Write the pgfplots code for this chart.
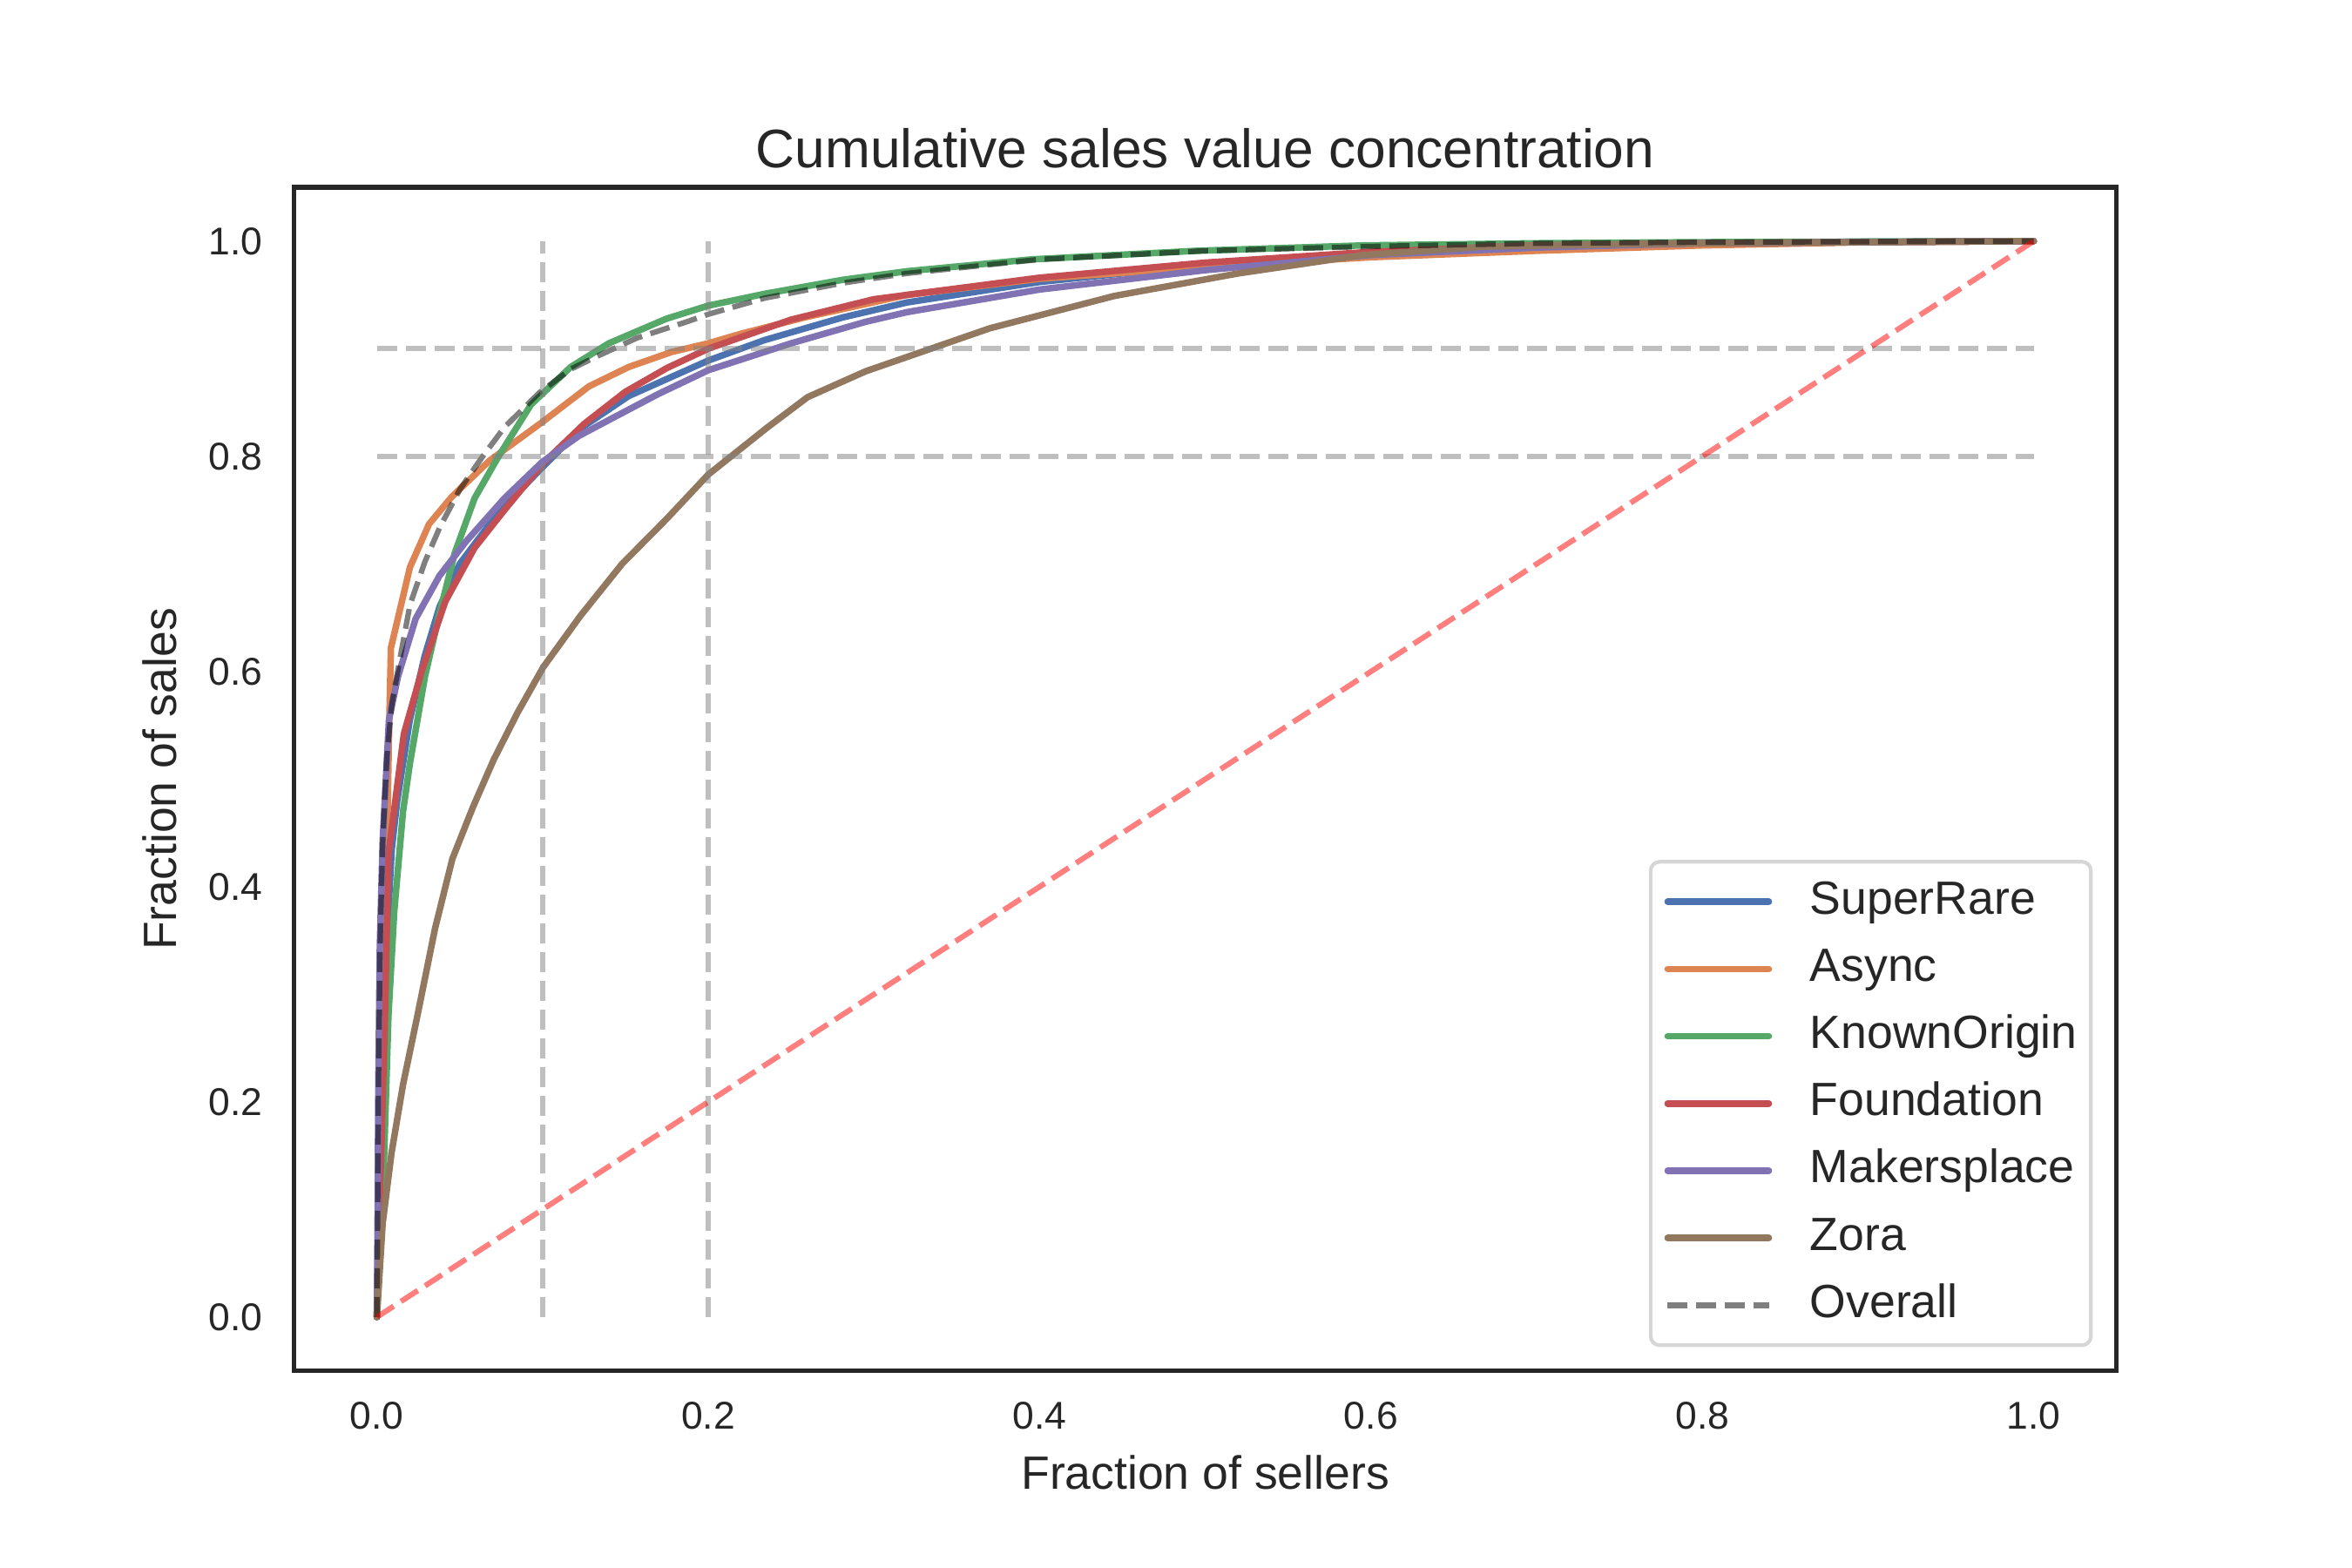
\documentclass[border=0pt]{standalone}
\usepackage{fontspec}
\setmainfont{Liberation Sans}
\usepackage{pgfplots}
\pgfplotsset{compat=1.18}
\definecolor{c1}{HTML}{4C72B0}
\definecolor{c2}{HTML}{DD8452}
\definecolor{c3}{HTML}{55A868}
\definecolor{c4}{HTML}{C44E52}
\definecolor{c5}{HTML}{8172B3}
\definecolor{c6}{HTML}{937860}
\definecolor{textc}{HTML}{262626}
\definecolor{legedge}{HTML}{D6D6D6}
\pgfplotsset{
  solidcurve/.style={line width=1.8pt, line cap=round, line join=round},
  dashcurve/.style={line width=1.5pt, dash pattern=on 5.55pt off 2.4pt},
}
\begin{document}
\begin{tikzpicture}
\path[use as bounding box] (-81.3pt,-54.5pt) rectangle (569.1pt,379.1pt);
\begin{axis}[
  at={(0,0)}, anchor=south west,
  scale only axis, width=504.0pt, height=327.3pt,
  xmin=-0.05, xmax=1.05, ymin=-0.05, ymax=1.05,
  xtick={0,0.2,0.4,0.6,0.8,1.0}, ytick={0,0.2,0.4,0.6,0.8,1.0},
  tick style={draw=none},
  axis line style={draw=textc, line width=1.25pt},
  /pgf/number format/assume math mode=true,
  xticklabel={\pgfmathprintnumber[fixed,fixed zerofill,precision=1]{\tick}},
  yticklabel={\pgfmathprintnumber[fixed,fixed zerofill,precision=1]{\tick}},
  xticklabel style={font=\fontsize{10.7}{13}\selectfont, text=textc, inner sep=0pt, anchor=north, yshift=-8.5pt},
  yticklabel style={font=\fontsize{10.7}{13}\selectfont, text=textc, inner sep=0pt, anchor=east, xshift=-8.5pt},
  title={Cumulative sales value concentration},
  title style={font=\fontsize{15.0}{18}\selectfont, text=textc, at={(axis description cs:0.5,1)}, anchor=base, yshift=-0.6pt, inner sep=0pt},
  xlabel={Fraction of sellers},
  xlabel style={font=\fontsize{12.9}{15}\selectfont, text=textc, at={(axis description cs:0.5,0)}, anchor=north, yshift=-23.2pt, inner sep=0pt},
  ylabel={Fraction of sales},
  ylabel style={font=\fontsize{12.9}{15}\selectfont, text=textc, at={(axis description cs:-0.0834,0.5)}, anchor=north, inner sep=0pt},
  legend image code/.code={\draw[#1] (0pt,0pt) -- (28pt,0pt);},
  legend style={
    at={(axis description cs:1,0)}, anchor=south east, xshift=-6.6pt, yshift=6.6pt,
    draw=legedge, line width=1pt, rounded corners=2.5pt, fill=white,
    font=\fontsize{12.9}{15}\selectfont, text=textc,
    inner xsep=3.8pt, inner ysep=4.8pt,
    row sep=6.1pt, column sep=10.5pt,
    nodes={inner sep=0pt, text height=9.6pt, text depth=2.9pt},
  },
  legend cell align=left,
]
\addplot[c1, solidcurve] coordinates {
(0,0) (0.001,0.08) (0.003,0.2) (0.006,0.35) (0.009,0.435) (0.0123,0.48) (0.0199,0.555) (0.0288,0.614) (0.0378,0.66) (0.05,0.70) (0.072,0.745) (0.1,0.790) (0.124,0.827) (0.152,0.856) (0.2,0.889) (0.234,0.908) (0.281,0.929) (0.32,0.943) (0.4,0.962) (0.5,0.978) (0.6,0.989) (0.7,0.995) (0.8,0.998) (0.9,0.9995) (1,1)};
\addlegendentry{SuperRare}
\addplot[c2, solidcurve] coordinates {
(0,0) (0.002,0.12) (0.004,0.27) (0.0055,0.4) (0.0065,0.47) (0.0075,0.555) (0.0085,0.622) (0.02,0.697) (0.0315,0.737) (0.045,0.762) (0.068,0.796) (0.1,0.832) (0.128,0.865) (0.152,0.883) (0.178,0.897) (0.2,0.905) (0.22,0.914) (0.258,0.929) (0.32,0.950) (0.4,0.965) (0.5,0.976) (0.6,0.985) (0.7,0.991) (0.8,0.996) (0.9,0.999) (1,1)};
\addlegendentry{Async}
\addplot[c3, solidcurve] coordinates {
(0,0) (0.0018,0.055) (0.0044,0.15) (0.007,0.28) (0.0105,0.377) (0.0158,0.47) (0.02,0.515) (0.029,0.595) (0.038,0.655) (0.047,0.71) (0.059,0.761) (0.0735,0.80) (0.093,0.848) (0.117,0.883) (0.14,0.905) (0.175,0.928) (0.2,0.940) (0.234,0.951) (0.281,0.964) (0.32,0.972) (0.395,0.983) (0.495,0.991) (0.595,0.996) (0.7,0.998) (0.8,0.999) (1,1)};
\addlegendentry{KnownOrigin}
\addplot[c4, solidcurve] coordinates {
(0,0) (0.001,0.08) (0.0026,0.15) (0.0049,0.28) (0.007,0.43) (0.0163,0.542) (0.027,0.60) (0.0413,0.665) (0.059,0.715) (0.077,0.75) (0.1,0.793) (0.125,0.830) (0.15,0.860) (0.175,0.882) (0.2,0.900) (0.25,0.927) (0.3,0.946) (0.4,0.966) (0.5,0.980) (0.6,0.990) (0.7,0.996) (0.8,0.998) (1,1)};
\addlegendentry{Foundation}
\addplot[c5, solidcurve] coordinates {
(0,0) (0.0005,0.1) (0.0009,0.216) (0.0018,0.345) (0.0035,0.442) (0.0073,0.555) (0.0127,0.595) (0.0234,0.649) (0.0378,0.689) (0.0539,0.721) (0.077,0.761) (0.1,0.795) (0.122,0.819) (0.1416,0.835) (0.17,0.858) (0.2,0.880) (0.25,0.905) (0.295,0.925) (0.32,0.934) (0.4,0.955) (0.5,0.973) (0.6,0.987) (0.7,0.994) (0.8,0.998) (1,1)};
\addlegendentry{Makersplace}
\addplot[c6, solidcurve] coordinates {
(0,0) (0.0035,0.087) (0.0088,0.152) (0.0158,0.216) (0.0246,0.281) (0.0351,0.361) (0.0456,0.426) (0.058,0.474) (0.0705,0.518) (0.085,0.562) (0.1004,0.604) (0.123,0.652) (0.148,0.700) (0.175,0.742) (0.2,0.783) (0.235,0.826) (0.26,0.855) (0.295,0.879) (0.37,0.919) (0.445,0.949) (0.52,0.970) (0.595,0.987) (0.67,0.995) (0.795,0.998) (1,1)};
\addlegendentry{Zora}
\addplot[black, opacity=0.5, dashcurve] coordinates {
(0,0) (0.0005,0.1) (0.001,0.22) (0.002,0.35) (0.0035,0.44) (0.006,0.52) (0.009,0.569) (0.0136,0.609) (0.02,0.662) (0.029,0.702) (0.038,0.734) (0.05,0.769) (0.063,0.798) (0.077,0.827) (0.098,0.859) (0.117,0.881) (0.133,0.893) (0.157,0.910) (0.187,0.925) (0.2,0.932) (0.234,0.947) (0.281,0.961) (0.32,0.970) (0.4,0.983) (0.5,0.991) (0.6,0.995) (0.7,0.998) (0.8,0.999) (1,1)};
\addlegendentry{Overall}
\addplot[forget plot, gray, opacity=0.5, dashcurve] coordinates {(0,0.8) (1,0.8)};
\addplot[forget plot, gray, opacity=0.5, dashcurve] coordinates {(0,0.9) (1,0.9)};
\addplot[forget plot, gray, opacity=0.5, dashcurve] coordinates {(0.1,0) (0.1,1)};
\addplot[forget plot, gray, opacity=0.5, dashcurve] coordinates {(0.2,0) (0.2,1)};
\addplot[forget plot, red, opacity=0.5, dashcurve] coordinates {(0,0) (1,1)};
\end{axis}
\end{tikzpicture}
\end{document}
